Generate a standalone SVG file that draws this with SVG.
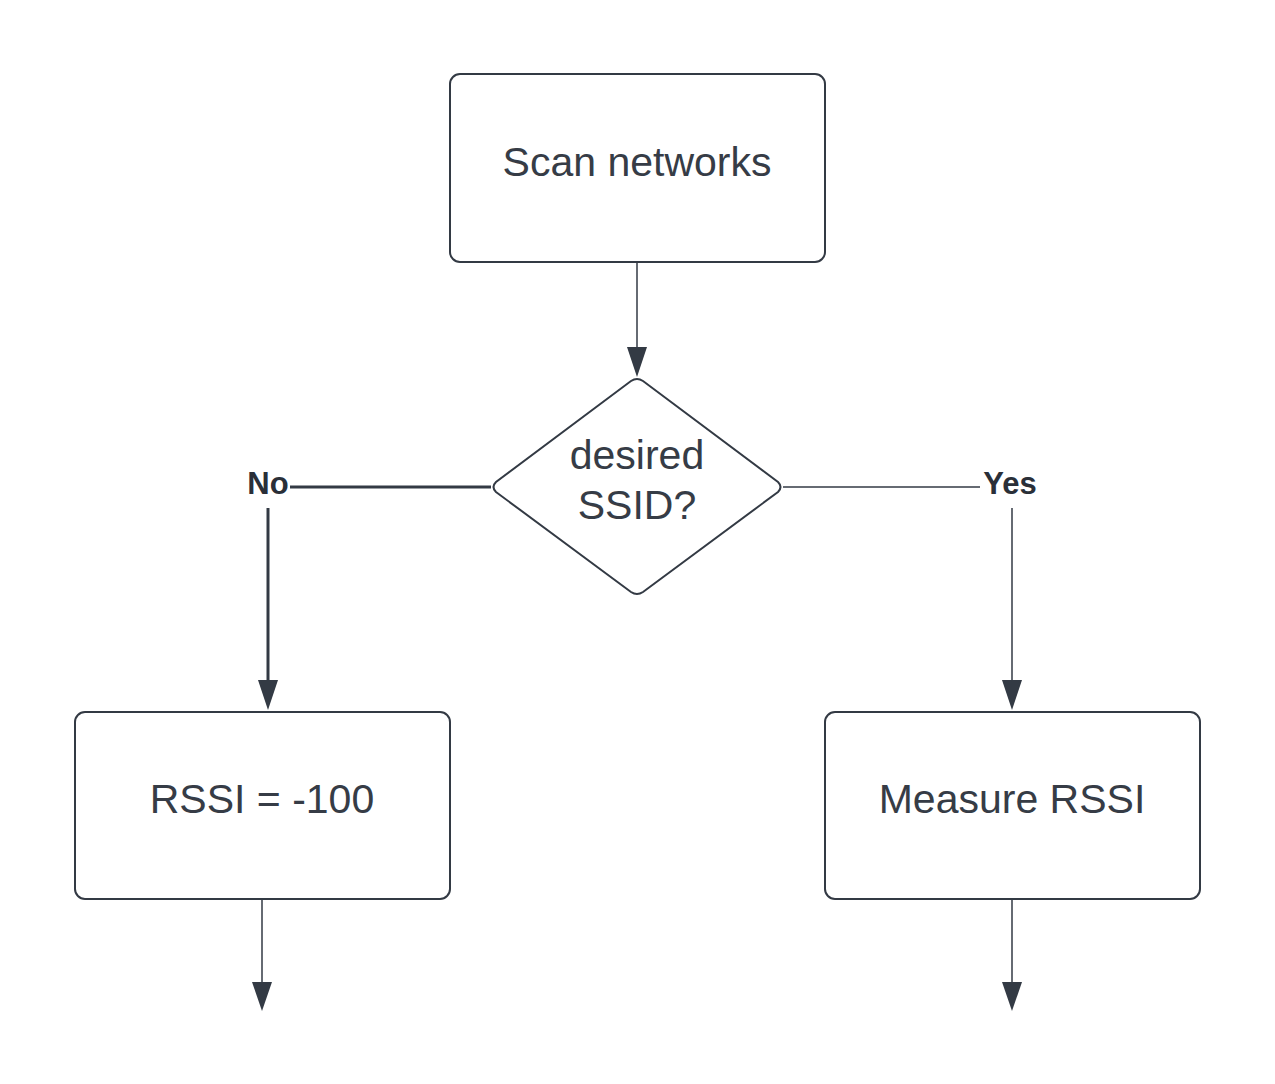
<svg xmlns="http://www.w3.org/2000/svg" width="1275" height="1084" viewBox="0 0 1275 1084">
<defs>
<style>
.box{fill:#fff;stroke:#333a44;stroke-width:2}
.t{font-family:"Liberation Sans",Arial,sans-serif;font-size:41px;fill:#363c46;text-anchor:middle}
.lbl{font-family:"Liberation Sans",Arial,sans-serif;font-size:31px;font-weight:bold;fill:#2a2f38;text-anchor:middle}
.c{fill:none;stroke:#333a44;stroke-width:1.5}
.ct{fill:none;stroke:#333a44;stroke-width:3}
.ah{fill:#333a44}
</style>
</defs>
<rect width="1275" height="1084" fill="#fff"/>
<g id="connectors">
<line class="c" x1="637" y1="262" x2="637" y2="350"/>
<polygon class="ah" points="627,347 647,347 637,377"/>
<line class="ct" x1="491" y1="487" x2="290" y2="487"/>
<line class="ct" x1="268" y1="508" x2="268" y2="684"/>
<polygon class="ah" points="258,680 278,680 268,710"/>
<line class="c" x1="783" y1="487" x2="980" y2="487"/>
<line class="c" x1="1012" y1="508" x2="1012" y2="684"/>
<polygon class="ah" points="1002,680 1022,680 1012,710"/>
<line class="c" x1="262" y1="899" x2="262" y2="985"/>
<polygon class="ah" points="252,982 272,982 262,1011"/>
<line class="c" x1="1012" y1="899" x2="1012" y2="985"/>
<polygon class="ah" points="1002,982 1022,982 1012,1011"/>
<text class="lbl" x="268" y="494">No</text>
<text class="lbl" x="1010" y="494">Yes</text>
</g>
<g id="scan">
<rect class="box" x="450" y="74" width="375" height="188" rx="10"/>
<text class="t" x="637" y="176">Scan networks</text>
</g>
<g id="decision">
<path class="box" d="M631,381 Q637,377 643,381 L778,482 Q783,487 778,492 L643,592 Q637,596 631,592 L496,492 Q491,487 496,482 Z"/>
<text class="t" x="637" y="469">desired</text>
<text class="t" x="637" y="519">SSID?</text>
</g>
<g id="rssi100">
<rect class="box" x="75" y="712" width="375" height="187" rx="10"/>
<text class="t" x="262" y="813">RSSI = -100</text>
</g>
<g id="measure">
<rect class="box" x="825" y="712" width="375" height="187" rx="10"/>
<text class="t" x="1012" y="813">Measure RSSI</text>
</g>
</svg>
